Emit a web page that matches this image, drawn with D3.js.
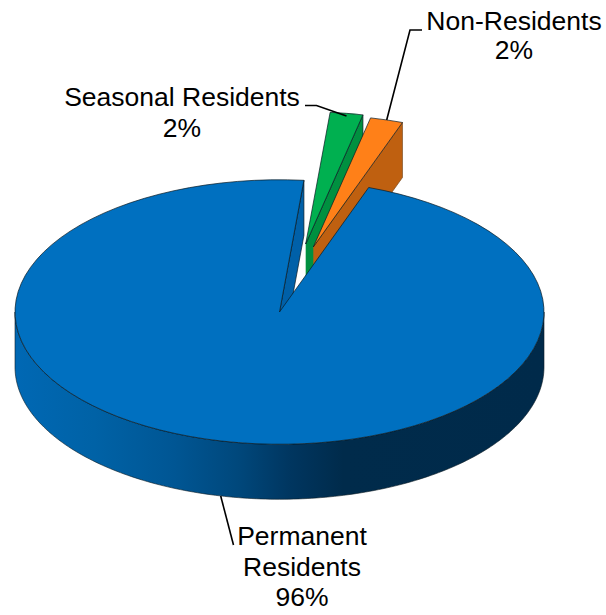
<!DOCTYPE html>
<html><head><meta charset="utf-8">
<script src="https://cdnjs.cloudflare.com/ajax/libs/d3/7.8.5/d3.min.js"></script>
<style>html,body{margin:0;padding:0;background:#fff}svg{display:block}text{font-family:"Liberation Sans",Arial,sans-serif;font-size:26.5px;fill:#000;text-anchor:middle}</style>
</head><body><div id="c"></div>
<script>
const categories = ["Permanent Residents", "Seasonal Residents", "Non-Residents"];
const values = [96, 2, 2];
const percentLabels = ["96%", "2%", "2%"];

const W = 606, H = 615;
const cx = 279.5, cy = 312, R = 264.5, tilt = 0.5, depth = 55;
const startDeg = 19.7;
const offsets = [[0, 0], [26.2, -68], [33.8, -65]];
const topColors = ["#0070C0", "#00B050", "#FF8018"];
const sideColors = ["#0060A8", "#009040", "#BF6010"];
const stroke = "#0a1a22";

const svg = d3.select("#c").append("svg").attr("width", W).attr("height", H);
const pie = d3.pie().sort(null).value(d => d)
  .startAngle(startDeg * Math.PI / 180)
  .endAngle((startDeg + 360) * Math.PI / 180);
const arcs = pie(values);
const arc = d3.arc().innerRadius(0).outerRadius(R);
const pt = (a, i = 0, dz = 0, r = R) => [
  cx + offsets[i][0] + r * Math.sin(a),
  cy + offsets[i][1] - r * Math.cos(a) * tilt + dz
];
const line = d3.line();

const defs = svg.append("defs");
const grad = defs.append("linearGradient").attr("id", "rim")
  .attr("gradientUnits", "userSpaceOnUse")
  .attr("x1", cx - R).attr("x2", cx + R).attr("y1", 0).attr("y2", 0);
[[0, "#0068B4"], [0.15, "#0062A6"], [0.3, "#005694"], [0.42, "#00487C"], [0.52, "#003660"], [0.62, "#002B4B"], [1, "#002A4A"]]
  .forEach(s => grad.append("stop").attr("offset", s[0]).attr("stop-color", s[1]));

function flatFace(i, a) {
  return line([pt(0, i, 0, 0), pt(a, i), pt(a, i, depth), pt(0, i, depth, 0)]);
}
function wedgeTop(i) {
  return svg.append("path")
    .attr("d", arc(arcs[i]))
    .attr("transform", `translate(${cx + offsets[i][0]},${cy + offsets[i][1]}) scale(1,${tilt})`)
    .attr("fill", topColors[i]).attr("stroke", stroke).attr("stroke-width", 0.7)
    .style("vector-effect", "non-scaling-stroke");
}

svg.append("path").attr("d", flatFace(0, arcs[0].endAngle))
  .attr("fill", sideColors[0]).attr("stroke", stroke).attr("stroke-width", 0.7);

svg.append("path").attr("d", flatFace(1, arcs[1].endAngle))
  .attr("fill", sideColors[1]).attr("stroke", stroke).attr("stroke-width", 0.7);
wedgeTop(1);

svg.append("path").attr("d", flatFace(2, arcs[2].endAngle))
  .attr("fill", sideColors[2]).attr("stroke", "#7a4a20").attr("stroke-width", 0.7);
wedgeTop(2);

const rimAngles = d3.range(90, 270.5, 1).map(d => d * Math.PI / 180);
const rimPts = rimAngles.map(a => pt(a, 0, 0)).concat(rimAngles.slice().reverse().map(a => pt(a, 0, depth)));
svg.append("path").attr("d", line(rimPts) + "Z")
  .attr("fill", "url(#rim)").attr("stroke", stroke).attr("stroke-width", 0.6);

wedgeTop(0);

const leaders = [
  [[305, 105.5], [316.5, 105.5], [346.5, 116]],
  [[386.7, 120], [410, 30], [422, 30]],
  [[220.7, 496], [233.5, 545]]
];
svg.selectAll("path.leader").data(leaders).join("path").attr("class", "leader")
  .attr("d", d => line(d)).attr("fill", "none").attr("stroke", "#000").attr("stroke-width", 1.6);

const labelLines = [
  { x: 302, ys: [545, 576, 606], t: ["Permanent", "Residents", percentLabels[0]] },
  { x: 182, ys: [106, 137], t: [categories[1], percentLabels[1]] },
  { x: 514, ys: [30, 59], t: [categories[2], percentLabels[2]] }
];
labelLines.forEach(l => l.t.forEach((s, i) =>
  svg.append("text").attr("x", l.x).attr("y", l.ys[i]).text(s)));
</script></body></html>
